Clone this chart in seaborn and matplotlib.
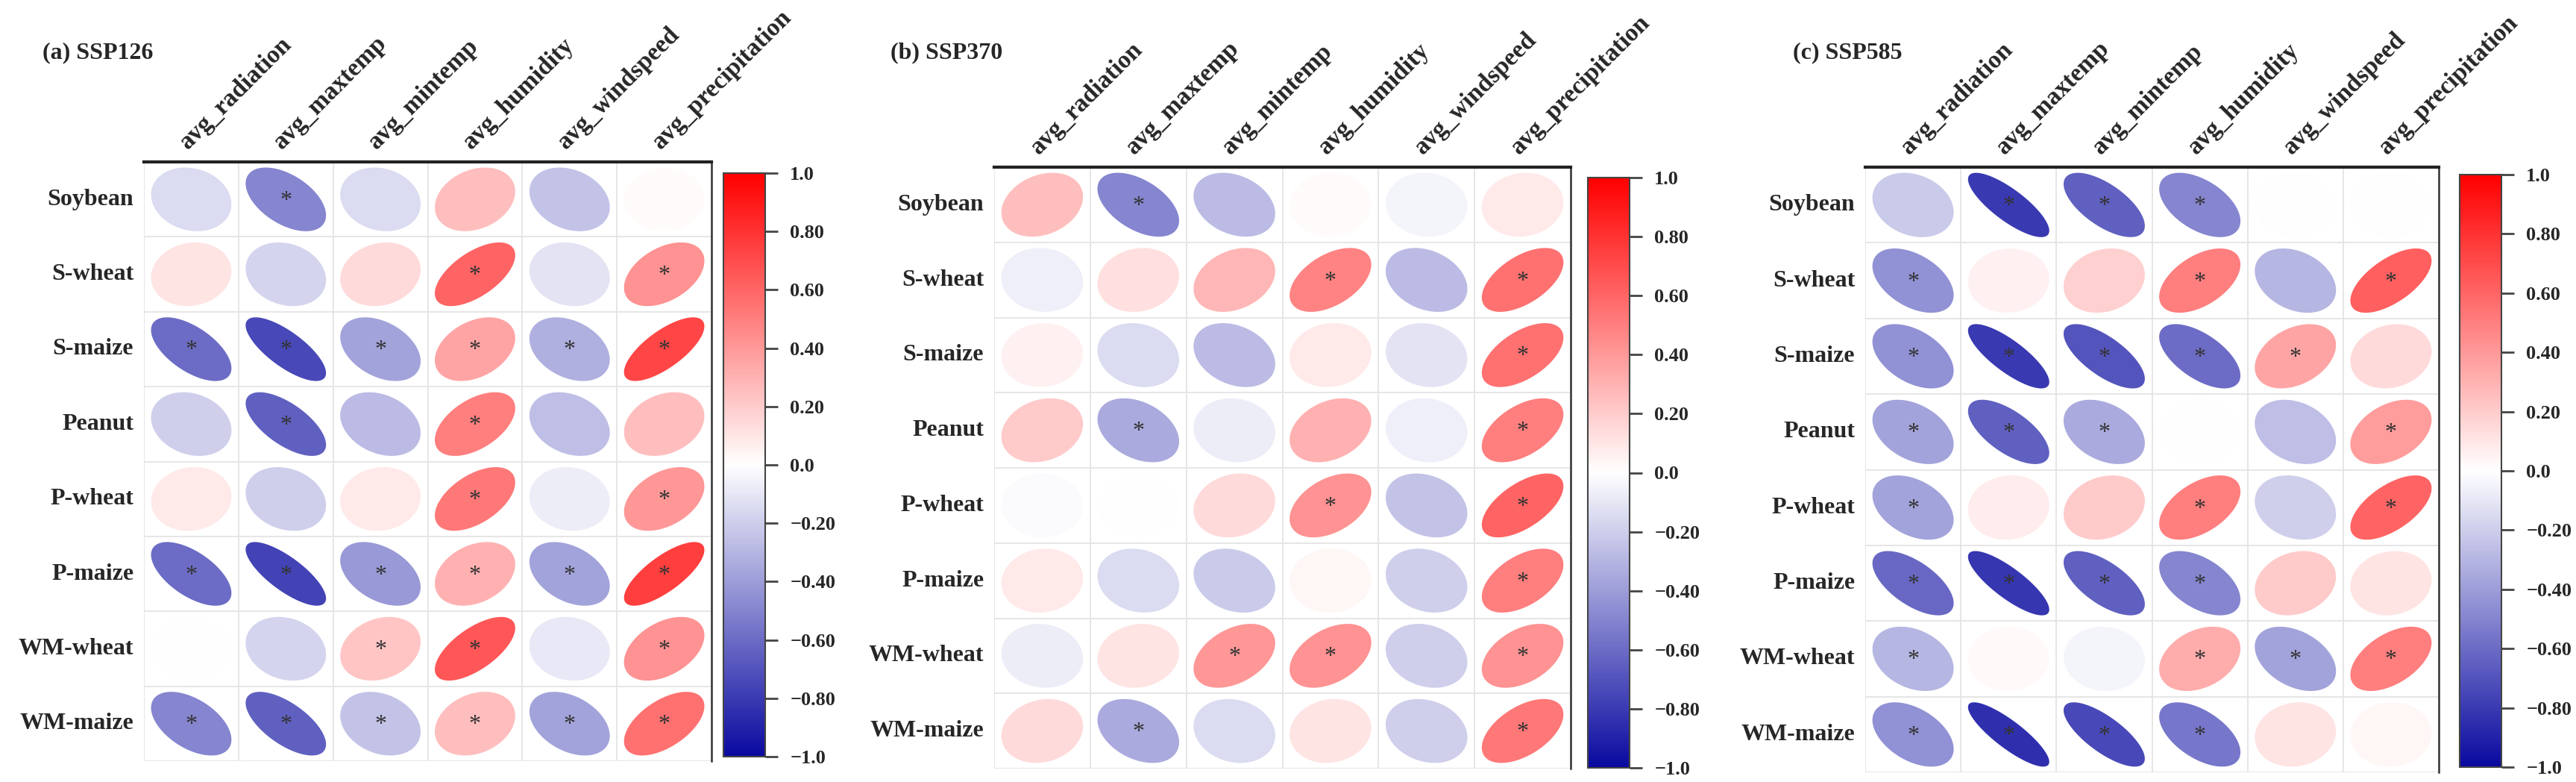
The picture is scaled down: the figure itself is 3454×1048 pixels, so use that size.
import numpy as np
import pandas as pd
import matplotlib
matplotlib.use("Agg")
import matplotlib.pyplot as plt
from matplotlib.colors import LinearSegmentedColormap
from matplotlib.patches import Polygon
import seaborn as sns

# ---- data ----
crops = ["Soybean", "S-wheat", "S-maize", "Peanut", "P-wheat", "P-maize", "WM-wheat", "WM-maize"]
variables = ["avg_radiation", "avg_maxtemp", "avg_mintemp", "avg_humidity", "avg_windspeed", "avg_precipitation"]
panel_titles = ["(a) SSP126", "(b) SSP370", "(c) SSP585"]

r_ssp126 = [
    [-0.15, -0.50, -0.15, 0.25, -0.25, 0.01],
    [0.10, -0.18, 0.15, 0.60, -0.12, 0.42],
    [-0.60, -0.75, -0.38, 0.35, -0.33, 0.72],
    [-0.20, -0.65, -0.28, 0.50, -0.27, 0.25],
    [0.08, -0.20, 0.08, 0.52, -0.08, 0.40],
    [-0.60, -0.77, -0.42, 0.30, -0.38, 0.75],
    [0.00, -0.18, 0.22, 0.65, -0.10, 0.42],
    [-0.50, -0.65, -0.25, 0.25, -0.38, 0.55],
]
sig_ssp126 = [
    [0, 1, 0, 0, 0, 0],
    [0, 0, 0, 1, 0, 1],
    [1, 1, 1, 1, 1, 1],
    [0, 1, 0, 1, 0, 0],
    [0, 0, 0, 1, 0, 1],
    [1, 1, 1, 1, 1, 1],
    [0, 0, 1, 1, 0, 1],
    [1, 1, 1, 1, 1, 1],
]

r_ssp370 = [
    [0.25, -0.50, -0.28, 0.01, -0.05, 0.08],
    [-0.07, 0.12, 0.28, 0.48, -0.28, 0.55],
    [0.05, -0.15, -0.28, 0.08, -0.12, 0.55],
    [0.20, -0.35, -0.08, 0.30, -0.07, 0.50],
    [-0.02, 0.00, 0.15, 0.42, -0.25, 0.60],
    [0.08, -0.15, -0.22, 0.03, -0.20, 0.50],
    [-0.08, 0.10, 0.40, 0.42, -0.20, 0.42],
    [0.15, -0.35, -0.15, 0.10, -0.20, 0.52],
]
sig_ssp370 = [
    [0, 1, 0, 0, 0, 0],
    [0, 0, 0, 1, 0, 1],
    [0, 0, 0, 0, 0, 1],
    [0, 1, 0, 0, 0, 1],
    [0, 0, 0, 1, 0, 1],
    [0, 0, 0, 0, 0, 1],
    [0, 0, 1, 1, 0, 1],
    [0, 1, 0, 0, 0, 1],
]

r_ssp585 = [
    [-0.22, -0.80, -0.65, -0.50, -0.01, -0.01],
    [-0.45, 0.05, 0.18, 0.50, -0.30, 0.62],
    [-0.45, -0.80, -0.70, -0.60, 0.35, 0.15],
    [-0.38, -0.65, -0.35, 0.00, -0.27, 0.38],
    [-0.38, 0.07, 0.20, 0.50, -0.20, 0.60],
    [-0.62, -0.82, -0.65, -0.50, 0.20, 0.10],
    [-0.30, 0.02, -0.05, 0.32, -0.38, 0.50],
    [-0.45, -0.85, -0.75, -0.55, 0.10, 0.03],
]
sig_ssp585 = [
    [0, 1, 1, 1, 0, 0],
    [1, 0, 0, 1, 0, 1],
    [1, 1, 1, 1, 1, 0],
    [1, 1, 1, 0, 0, 1],
    [1, 0, 0, 1, 0, 1],
    [1, 1, 1, 1, 0, 0],
    [1, 0, 0, 1, 1, 1],
    [1, 1, 1, 1, 0, 0],
]

cbar_ticks = [-1.0, -0.8, -0.6, -0.4, -0.2, 0.0, 0.2, 0.4, 0.6, 0.8, 1.0]
cbar_tick_labels = ["\u22121.0", "\u22120.80", "\u22120.60", "\u22120.40", "\u22120.20",
                    "0.0", "0.20", "0.40", "0.60", "0.80", "1.0"]

panels = [
    (panel_titles[0], r_ssp126, sig_ssp126),
    (panel_titles[1], r_ssp370, sig_ssp370),
    (panel_titles[2], r_ssp585, sig_ssp585),
]

# ---- style ----
sns.set_theme(style="white")
plt.rcParams['font.family'] = ['Liberation Serif', 'DejaVu Serif']
plt.rcParams['font.weight'] = 'bold'

W, H = 3454, 1048
fig = plt.figure(figsize=(W / 100, H / 100), dpi=100)

cmap = LinearSegmentedColormap.from_list('corr_bwr', ['#0A0AA0', '#FFFFFF', '#FF0000'], N=200)

# pixel boxes (left, top, right, bottom) of each matrix and colorbar, title x
layouts = [
    dict(mat=(193, 217, 954, 1020), cbar=(970, 232, 1026, 1014), title_x=57),
    dict(mat=(1333, 224, 2106, 1030), cbar=(2129, 238, 2185, 1029), title_x=1194),
    dict(mat=(2501, 224, 3270, 1035), cbar=(3298, 234, 3354, 1028), title_x=2404),
]


def frac(box):
    l, t, r, b = box
    return [l / W, 1 - b / H, (r - l) / W, (b - t) / H]


theta = np.linspace(0, 2 * np.pi, 120)


def ellipse_points(r, cx, cy, scale=0.85):
    d = np.arccos(np.clip(r, -1, 1)) / 2
    x = np.cos(theta + d) / 2 * scale
    y = np.cos(theta - d) / 2 * scale
    return np.column_stack([cx + x, cy - y])  # y axis is inverted by heatmap


for (title, rvals, sig), lay in zip(panels, layouts):
    ax = fig.add_axes(frac(lay['mat']))
    cax = fig.add_axes(frac(lay['cbar']))
    df = pd.DataFrame(rvals, index=crops, columns=variables)

    sns.heatmap(df, mask=np.ones(df.shape, dtype=bool), cmap=cmap, vmin=-1, vmax=1,
                ax=ax, cbar_ax=cax, xticklabels=variables, yticklabels=crops)

    # cell grid
    for i in range(len(crops) + 1):
        ax.axhline(i, color='#E4E4E4', lw=1.3, zorder=1)
    for j in range(len(variables) + 1):
        ax.axvline(j, color='#E4E4E4', lw=1.3, zorder=1)

    # ellipses + significance marks
    for i, crop in enumerate(crops):
        for j, var in enumerate(variables):
            r = df.loc[crop, var]
            poly = Polygon(ellipse_points(r, j + 0.5, i + 0.5), closed=True,
                           facecolor=cmap((r + 1) / 2), edgecolor='none', zorder=2)
            ax.add_patch(poly)
            if sig[i][j]:
                ax.text(j + 0.5, i + 0.52, '*', ha='center', va='center',
                        fontsize=23, color='#333333', fontweight='normal', zorder=3)

    # frame: thick top, black right
    for side in ['left', 'bottom']:
        ax.spines[side].set_visible(False)
    ax.spines['top'].set_visible(True)
    ax.spines['top'].set_color('#222222')
    ax.spines['top'].set_linewidth(3)
    ax.spines['right'].set_visible(True)
    ax.spines['right'].set_color('#333333')
    ax.spines['right'].set_linewidth(1.8)

    ax.xaxis.tick_top()
    ax.set_xticklabels(variables, rotation=45, ha='left', va='bottom',
                       rotation_mode='anchor', fontsize=24, fontweight='bold')
    ax.set_yticklabels(crops, rotation=0, fontsize=23, fontweight='bold')
    ax.tick_params(axis='x', length=0, pad=8)
    ax.tick_params(axis='y', length=0, pad=10)
    ax.set_xlabel('')
    ax.set_ylabel('')

    # colorbar
    cb = ax.collections[0].colorbar
    cb.set_ticks(cbar_ticks)
    cb.set_ticklabels(cbar_tick_labels)
    cb.outline.set_linewidth(1.5)
    cb.outline.set_edgecolor('#444444')
    cax.tick_params(length=12, width=2, color='#444444', pad=12, labelsize=19)
    for lab in cax.get_yticklabels():
        lab.set_fontweight('bold')

    fig.text(lay['title_x'] / W, 1 - 78 / H, title, fontsize=23, fontweight='bold',
             ha='left', va='baseline')

fig.savefig('out.png', dpi=100)
